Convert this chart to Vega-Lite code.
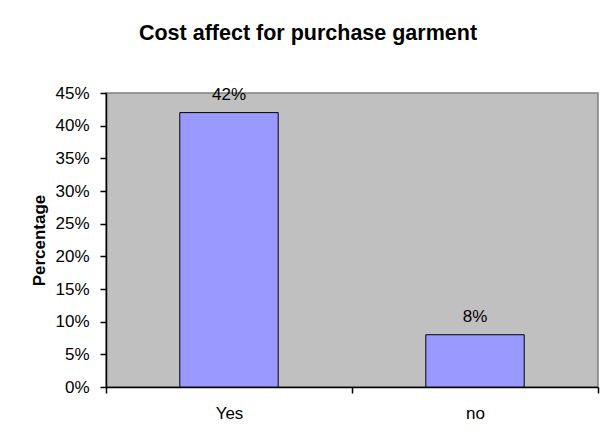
{
  "$schema": "https://vega.github.io/schema/vega-lite/v6.json",
  "width": 492,
  "height": 294,
  "autosize": {"type": "none"},
  "padding": {"left": 106, "top": 93, "right": 3, "bottom": 53},
  "background": "white",
  "title": {
    "text": "Cost affect for purchase garment",
    "font": "Arial, Liberation Sans",
    "fontSize": 21.5,
    "fontWeight": "bold",
    "color": "black",
    "anchor": "middle",
    "frame": "group",
    "dx": -44,
    "offset": 40
  },
  "data": {
    "values": [
      {"response": "Yes", "share": 0.42},
      {"response": "no", "share": 0.08}
    ]
  },
  "encoding": {
    "x": {
      "field": "response",
      "type": "nominal",
      "sort": null,
      "scale": {"paddingInner": 0, "paddingOuter": 0},
      "axis": {
        "title": null,
        "labelAngle": 0,
        "labelFont": "Arial, Liberation Sans",
        "labelFontSize": 17,
        "labelColor": "black",
        "labelPadding": 12,
        "tickBand": "extent",
        "tickColor": "black",
        "tickSize": 6,
        "tickWidth": 1.5,
        "domainColor": "black",
        "domainWidth": 1.5
      }
    },
    "y": {
      "field": "share",
      "type": "quantitative",
      "scale": {"domain": [0, 0.45], "nice": false},
      "axis": {
        "title": "Percentage",
        "titleFont": "Arial, Liberation Sans",
        "titleFontSize": 17,
        "titleFontWeight": "bold",
        "titleColor": "black",
        "titlePadding": 6,
        "values": [0, 0.05, 0.1, 0.15, 0.2, 0.25, 0.3, 0.35, 0.4, 0.45],
        "format": ".0%",
        "labelFont": "Arial, Liberation Sans",
        "labelFontSize": 17,
        "labelColor": "black",
        "labelPadding": 11,
        "tickColor": "black",
        "tickSize": 6,
        "tickWidth": 1.5,
        "domainColor": "black",
        "domainWidth": 1.5,
        "grid": false
      }
    }
  },
  "layer": [
    {
      "mark": {
        "type": "bar",
        "width": {"band": 0.4},
        "fill": "#9999FF",
        "stroke": "black",
        "strokeWidth": 1
      }
    },
    {
      "mark": {
        "type": "text",
        "baseline": "alphabetic",
        "dy": -13,
        "font": "Arial, Liberation Sans",
        "fontSize": 17,
        "color": "black"
      },
      "encoding": {
        "text": {"field": "share", "type": "quantitative", "format": ".0%"}
      }
    }
  ],
  "config": {
    "view": {"fill": "#C0C0C0", "stroke": "#808080", "strokeWidth": 1.5}
  }
}
